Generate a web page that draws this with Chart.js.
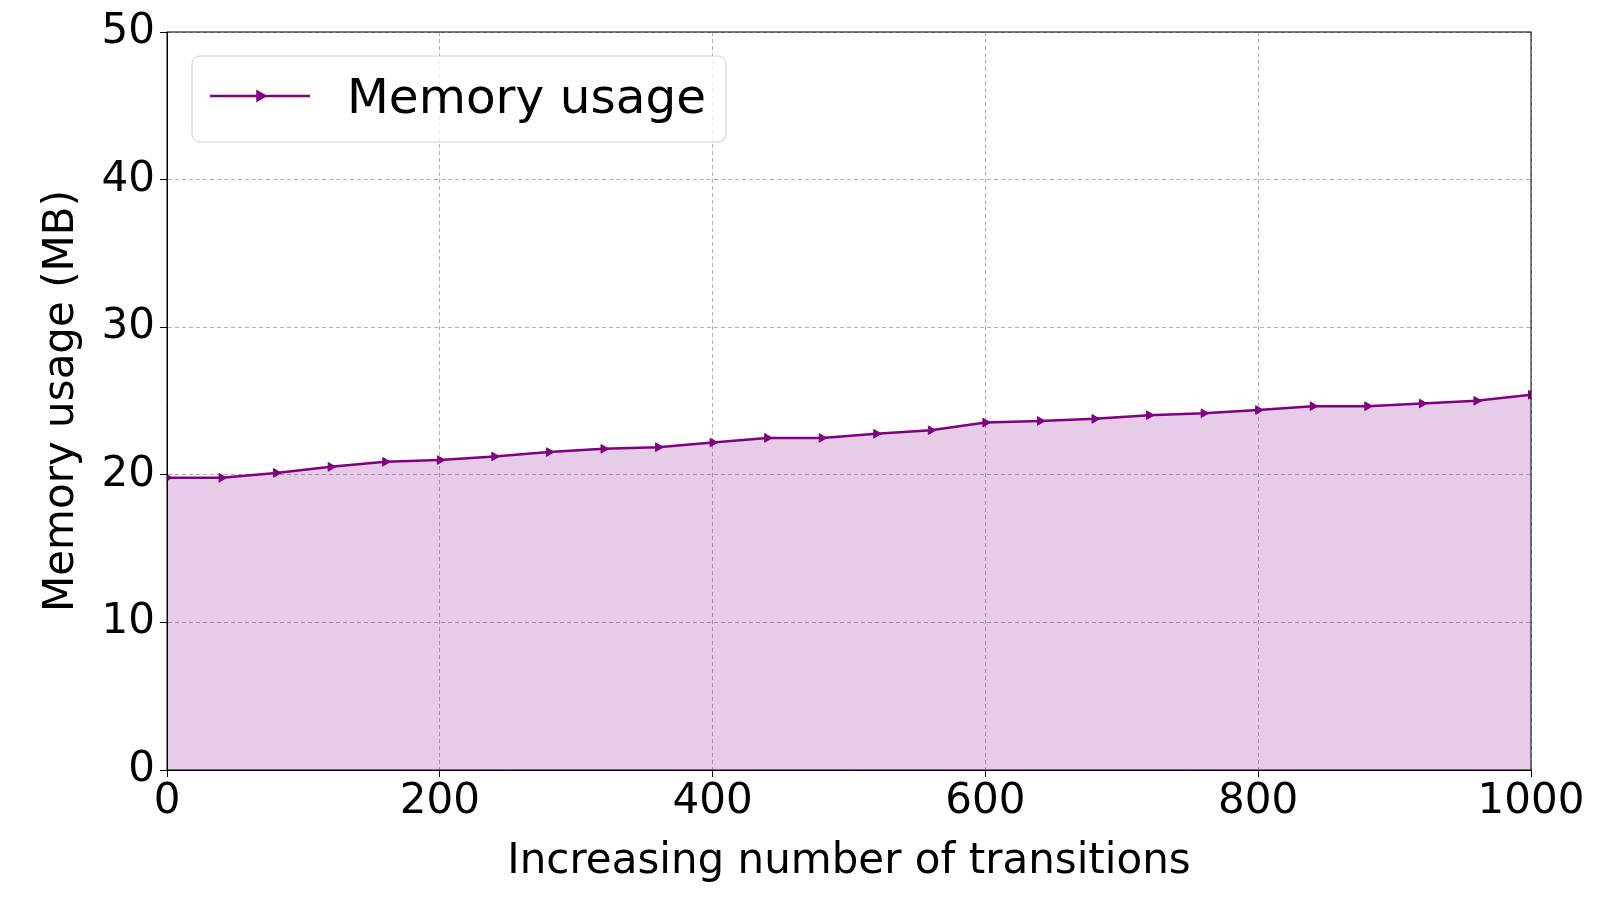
<!DOCTYPE html>
<html>
<head>
<meta charset="utf-8">
<title>Memory usage</title>
<script src="https://cdn.jsdelivr.net/npm/chart.js@4/dist/chart.umd.min.js"></script>
<style>
  html, body { margin: 0; padding: 0; background: #fff; }
  #wrap { width: 1600px; height: 899px; }
</style>
</head>
<body>
<div id="wrap"><canvas id="memChart" width="1600" height="899"></canvas></div>
<script>
// data
const transitions = [0, 40, 80, 120, 160, 200, 240, 280, 320, 360, 400, 440, 480,
  520, 560, 600, 640, 680, 720, 760, 800, 840, 880, 920, 960, 1000];
const memoryMB = [19.8, 19.8, 20.13, 20.54, 20.88, 21.0, 21.24, 21.54, 21.76, 21.87, 22.19,
  22.5, 22.5, 22.78, 23.02, 23.54, 23.65, 23.79, 24.04, 24.17, 24.39,
  24.65, 24.65, 24.83, 25.01, 25.42];
const xTicks = [0, 200, 400, 600, 800, 1000];
const yTicks = [0, 10, 20, 30, 40, 50];

const PURPLE = '#800080';
const FONT = "'DejaVu Sans', sans-serif";

// frame on top/right like matplotlib spines
const framePlugin = {
  id: 'frame',
  afterDatasetsDraw(chart) {
    const { ctx, chartArea: a } = chart;
    ctx.save();
    ctx.strokeStyle = '#000';
    ctx.lineWidth = 1;
    ctx.strokeRect(a.left, a.top, a.right - a.left, a.bottom - a.top);
    ctx.restore();
  }
};

// matplotlib-style legend box in the upper left
const legendPlugin = {
  id: 'mplLegend',
  afterDraw(chart) {
    const { ctx } = chart;
    const ds = chart.data.datasets[0];
    const x = 192, y = 56, w = 534, h = 86, r = 8;
    ctx.save();
    ctx.beginPath();
    ctx.roundRect(x, y, w, h, r);
    ctx.fillStyle = 'rgba(255,255,255,0.8)';
    ctx.fill();
    ctx.strokeStyle = '#cccccc';
    ctx.lineWidth = 1;
    ctx.stroke();

    const cy = y + h / 2 - 3;
    ctx.beginPath();
    ctx.moveTo(210, cy);
    ctx.lineTo(310, cy);
    ctx.strokeStyle = PURPLE;
    ctx.lineWidth = 2.5;
    ctx.stroke();
    ctx.fillStyle = PURPLE;
    Chart.helpers.drawPoint(ctx, { pointStyle: 'triangle', rotation: 90, radius: 5, borderWidth: 1 }, 260, cy);

    ctx.fillStyle = '#000';
    ctx.font = '48.5px ' + FONT;
    ctx.textBaseline = 'middle';
    ctx.textAlign = 'left';
    ctx.fillText(ds.label, 347, cy + 4);
    ctx.restore();
  }
};

new Chart(document.getElementById('memChart'), {
  type: 'line',
  data: {
    datasets: [{
      label: 'Memory usage',
      data: transitions.map((t, i) => ({ x: t, y: memoryMB[i] })),
      borderColor: PURPLE,
      backgroundColor: 'rgba(128,0,128,0.2)',
      borderWidth: 2.5,
      fill: 'origin',
      tension: 0,
      pointStyle: 'triangle',
      rotation: 90,
      pointRadius: 5,
      pointBorderWidth: 1,
      pointBackgroundColor: PURPLE,
      pointBorderColor: PURPLE,
      clip: 0
    }]
  },
  plugins: [framePlugin, legendPlugin],
  options: {
    responsive: false,
    animation: false,
    devicePixelRatio: 1,
    layout: { padding: { top: 32, right: 69, left: 0, bottom: 0 } },
    plugins: {
      legend: { display: false },
      tooltip: { enabled: false }
    },
    scales: {
      x: {
        type: 'linear',
        min: 0,
        max: 1000,
        afterBuildTicks: s => { s.ticks = xTicks.map(v => ({ value: v })); },
        afterFit: s => { s.height = 129; },
        ticks: {
          color: '#000', font: { family: FONT, size: 42 }, padding: 0, maxRotation: 0,
          callback: v => String(v)
        },
        grid: { color: '#b0b0b0', lineWidth: 1, tickLength: 7, tickColor: '#000', tickWidth: 1 },
        border: { color: '#000', width: 1, dash: [4, 3] },
        title: {
          display: true,
          text: 'Increasing number of transitions',
          color: '#000',
          font: { family: FONT, size: 42, lineHeight: 1 },
          padding: { top: 0, bottom: 16 }
        }
      },
      y: {
        min: 0,
        max: 50,
        afterBuildTicks: s => { s.ticks = yTicks.map(v => ({ value: v })); },
        afterFit: s => { s.width = 167; },
        ticks: { color: '#000', font: { family: FONT, size: 42 }, padding: 5 },
        grid: { color: '#b0b0b0', lineWidth: 1, tickLength: 7, tickColor: '#000', tickWidth: 1 },
        border: { color: '#000', width: 1, dash: [4, 3] },
        title: {
          display: true,
          text: 'Memory usage (MB)',
          color: '#000',
          font: { family: FONT, size: 42, lineHeight: 1 },
          padding: { top: 41, bottom: 0 }
        }
      }
    }
  }
});
</script>
</body>
</html>
